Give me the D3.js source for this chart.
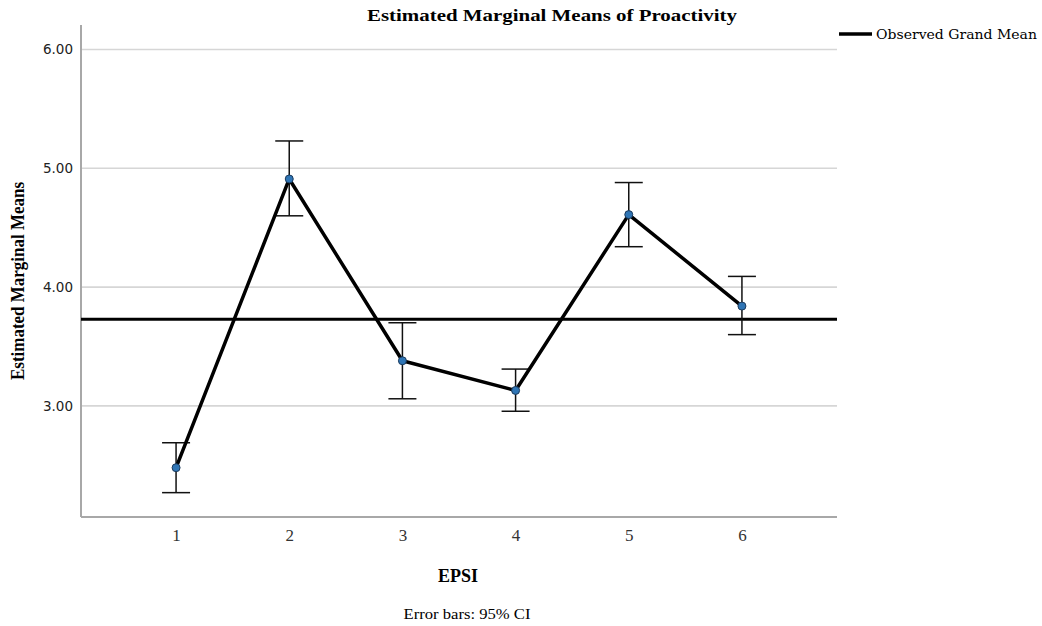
<!DOCTYPE html>
<html>
<head>
<meta charset="utf-8">
<script src="https://cdn.jsdelivr.net/npm/d3@7"></script>
<style>
  body { margin: 0; background: #fff; }
  svg { display: block; }
</style>
</head>
<body>
<div id="chart"></div>
<script>
const categories = ["1", "2", "3", "4", "5", "6"]
const means = [2.48, 4.91, 3.38, 3.13, 4.61, 3.84]
const ciLower = [2.27, 4.60, 3.06, 2.955, 4.34, 3.60]
const ciUpper = [2.69, 5.23, 3.70, 3.31, 4.88, 4.09]
const grandMean = 3.73
const yTicks = [3, 4, 5, 6]

const width = 1042, height = 626
const plotLeft = 81, plotRight = 837, plotTop = 25, plotBottom = 517

const svg = d3.select("#chart").append("svg")
    .attr("width", width)
    .attr("height", height)

const x = d3.scalePoint()
    .domain(categories)
    .range([plotLeft, plotRight])
    .padding(0.84)

const y = d3.scaleLinear()
    .domain([2.065, 6.206])
    .range([plotBottom, plotTop])

// gridlines
svg.append("g")
  .selectAll("line")
  .data(yTicks)
  .join("line")
    .attr("x1", plotLeft)
    .attr("x2", plotRight)
    .attr("y1", d => y(d))
    .attr("y2", d => y(d))
    .attr("stroke", "#d6d6d6")
    .attr("stroke-width", 1.6)

// y axis
const yAxis = svg.append("g")
    .attr("transform", "translate(" + plotLeft + ",0)")
    .call(d3.axisLeft(y).tickValues(yTicks).tickFormat(d3.format(".2f")).tickSize(0).tickPadding(8))
yAxis.select(".domain").remove()
yAxis.selectAll("text")
    .attr("font-family", "DejaVu Sans, sans-serif")
    .attr("font-size", 13.5)
    .attr("fill", "#222")

// x axis
const xAxis = svg.append("g")
    .attr("transform", "translate(0," + plotBottom + ")")
    .call(d3.axisBottom(x).tickSize(0).tickPadding(12))
xAxis.select(".domain").remove()
xAxis.selectAll("text")
    .attr("font-family", "Liberation Serif, serif")
    .attr("font-size", 17)
    .attr("fill", "#333")

// axis lines
svg.append("line")
    .attr("x1", plotLeft).attr("x2", plotLeft)
    .attr("y1", plotTop).attr("y2", plotBottom)
    .attr("stroke", "#a8a8a8").attr("stroke-width", 2)
svg.append("line")
    .attr("x1", plotLeft).attr("x2", plotRight)
    .attr("y1", plotBottom).attr("y2", plotBottom)
    .attr("stroke", "#a8a8a8").attr("stroke-width", 2)

// grand mean
svg.append("line")
    .attr("x1", plotLeft).attr("x2", plotRight)
    .attr("y1", y(grandMean)).attr("y2", y(grandMean))
    .attr("stroke", "#000").attr("stroke-width", 3)

// error bars
const bars = svg.append("g")
  .selectAll("g")
  .data(categories)
  .join("g")
bars.append("line")
    .attr("x1", d => x(d)).attr("x2", d => x(d))
    .attr("y1", (d, i) => y(ciLower[i]))
    .attr("y2", (d, i) => y(ciUpper[i]))
    .attr("stroke", "#111").attr("stroke-width", 1.5)
bars.append("line")
    .attr("x1", d => x(d) - 14).attr("x2", d => x(d) + 14)
    .attr("y1", (d, i) => y(ciLower[i]))
    .attr("y2", (d, i) => y(ciLower[i]))
    .attr("stroke", "#111").attr("stroke-width", 1.5)
bars.append("line")
    .attr("x1", d => x(d) - 14).attr("x2", d => x(d) + 14)
    .attr("y1", (d, i) => y(ciUpper[i]))
    .attr("y2", (d, i) => y(ciUpper[i]))
    .attr("stroke", "#111").attr("stroke-width", 1.5)

// means line
const line = d3.line()
    .x((d, i) => x(categories[i]))
    .y(d => y(d))
svg.append("path")
    .datum(means)
    .attr("fill", "none")
    .attr("stroke", "#000")
    .attr("stroke-width", 3.5)
    .attr("stroke-linejoin", "round")
    .attr("d", line)

svg.append("g")
  .selectAll("circle")
  .data(means)
  .join("circle")
    .attr("cx", (d, i) => x(categories[i]))
    .attr("cy", d => y(d))
    .attr("r", 4)
    .attr("fill", "#2f75b5")
    .attr("stroke", "#1b3a5c")
    .attr("stroke-width", 1)

// texts
svg.append("text")
    .attr("x", 367).attr("y", 21)
    .attr("font-family", "Liberation Serif, serif")
    .attr("font-weight", "bold")
    .attr("font-size", 17)
    .attr("textLength", 370)
    .attr("lengthAdjust", "spacingAndGlyphs")
    .text("Estimated Marginal Means of Proactivity")

svg.append("text")
    .attr("transform", "translate(24,281) rotate(-90)")
    .attr("text-anchor", "middle")
    .attr("font-family", "Liberation Serif, serif")
    .attr("font-weight", "bold")
    .attr("font-size", 18)
    .attr("textLength", 198)
    .attr("lengthAdjust", "spacingAndGlyphs")
    .text("Estimated Marginal Means")

svg.append("text")
    .attr("x", 458).attr("y", 582)
    .attr("text-anchor", "middle")
    .attr("font-family", "Liberation Serif, serif")
    .attr("font-weight", "bold")
    .attr("font-size", 18)
    .text("EPSI")

svg.append("text")
    .attr("x", 467).attr("y", 619)
    .attr("text-anchor", "middle")
    .attr("font-family", "Liberation Serif, serif")
    .attr("font-size", 14)
    .attr("textLength", 127)
    .attr("lengthAdjust", "spacingAndGlyphs")
    .text("Error bars: 95% CI")

// legend
svg.append("line")
    .attr("x1", 839).attr("x2", 872)
    .attr("y1", 34).attr("y2", 34)
    .attr("stroke", "#000").attr("stroke-width", 3.5)
svg.append("text")
    .attr("x", 876).attr("y", 39)
    .attr("font-family", "DejaVu Serif, serif")
    .attr("font-size", 13)
    .attr("textLength", 161)
    .attr("lengthAdjust", "spacingAndGlyphs")
    .text("Observed Grand Mean")
</script>
</body>
</html>
